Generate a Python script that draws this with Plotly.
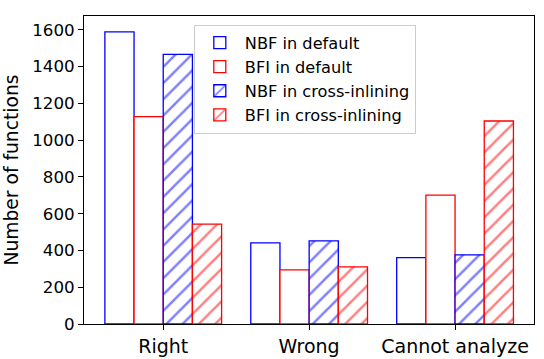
import plotly.graph_objects as go

categories = ["Right", "Wrong", "Cannot analyze"]
nbf_default = [1589, 441, 361]
bfi_default = [1128, 294, 701]
nbf_cross = [1466, 452, 376]
bfi_cross = [543, 311, 1104]
y_ticks = [0, 200, 400, 600, 800, 1000, 1200, 1400, 1600]

FONT = "DejaVu Sans"

def bar(name, vals, color, hatch):
    pattern = dict(shape="/", fgcolor=color, bgcolor="white", size=11.5, solidity=0.22) if hatch else dict(shape="")
    return go.Bar(
        name=name, x=categories, y=vals,
        marker=dict(color="white", line=dict(color=color, width=1.3), pattern=pattern),
    )

fig = go.Figure([
    bar("NBF in default", nbf_default, "blue", False),
    bar("BFI in default", bfi_default, "red", False),
    bar("NBF in cross-inlining", nbf_cross, "blue", True),
    bar("BFI in cross-inlining", bfi_cross, "red", True),
])

fig.update_layout(
    width=544, height=359,
    margin=dict(l=84, r=10, t=16, b=35, autoexpand=False),
    paper_bgcolor="white", plot_bgcolor="white",
    barmode="group", bargap=0.2, bargroupgap=0,
    font=dict(family=FONT, color="black", size=16),
    showlegend=True,
    legend=dict(
        x=0.244, y=0.972, xanchor="left", yanchor="top",
        bgcolor="rgba(255,255,255,0.8)", bordercolor="#cccccc", borderwidth=1,
        font=dict(size=16.2, family=FONT), tracegroupgap=0, itemwidth=40,
    ),
    xaxis=dict(
        type="category", range=[-0.543, 2.541], automargin=False,
        showline=True, linecolor="black", linewidth=1, mirror=True,
        ticks="outside", ticklen=5, tickcolor="black",
        tickfont=dict(size=19), showgrid=False,
    ),
    yaxis=dict(
        range=[0, 1675], tickvals=y_ticks, automargin=False,
        showline=True, linecolor="black", linewidth=1, mirror=True,
        ticks="outside", ticklen=5, tickcolor="black",
        tickfont=dict(size=16.7), showgrid=False, zeroline=False,
        title=dict(text="Number of functions", font=dict(size=18.7), standoff=8),
    ),
)

fig.write_html(
    "out.html",
    config={"displayModeBar": False},
    post_script="document.body.style.margin='0';document.body.style.overflow='hidden';",
)
